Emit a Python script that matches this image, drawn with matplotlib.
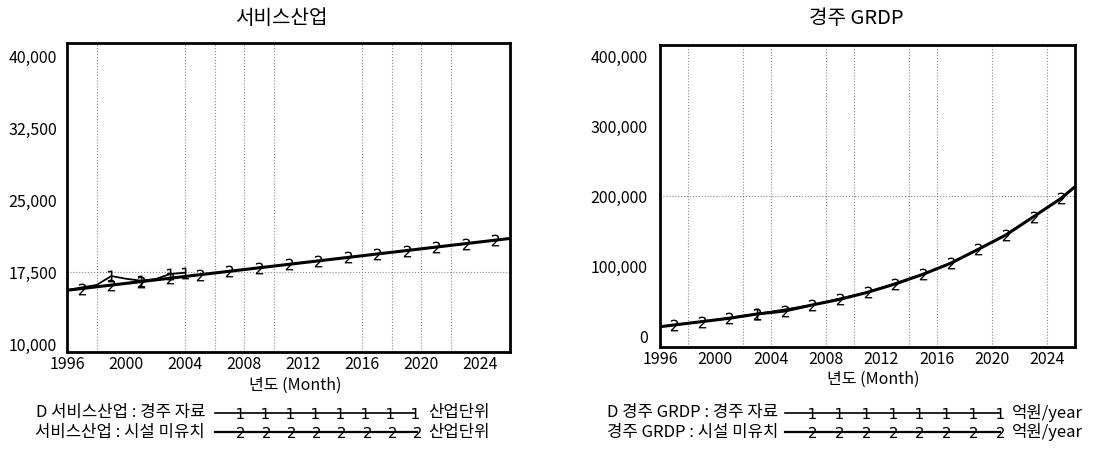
import matplotlib
matplotlib.use("Agg")
import matplotlib.pyplot as plt
from matplotlib.lines import Line2D
import numpy as np

plt.rcParams['font.family'] = ['Noto Sans CJK KR', 'DejaVu Sans']

# =============================================================================
    # Data
# =============================================================================
# 서비스산업 : 경주 자료 (data, series 1)
svc_data_years = [1996, 1997, 1998, 1999, 2000, 2001, 2002, 2003, 2004]
svc_data_vals = [15600, 15900, 16150, 17080, 16800, 16600, 16770, 17300, 17430]

# 서비스산업 : 시설 미유치 (simulation, series 2)
svc_sim_years = [1996, 1997, 1999, 2001, 2003, 2005, 2007, 2009, 2011,
                 2013, 2015, 2017, 2019, 2021, 2023, 2025, 2026]
svc_sim_vals = [15600, 15780, 16140, 16500, 16860, 17220, 17580, 17940, 18300,
                18660, 19020, 19380, 19740, 20100, 20460, 20820, 21000]

# 경주 GRDP : 경주 자료
gdp_data_years = [1996, 1999, 2003, 2007, 2011, 2015]
gdp_data_vals = [13300, 20500, 31400, 44300, 62400, 88100]

# 경주 GRDP : 시설 미유치
gdp_sim_years = [1996, 1997, 1999, 2001, 2003, 2005, 2007, 2009, 2011,
                 2013, 2015, 2017, 2019, 2021, 2023, 2025, 2026]
gdp_sim_vals = [13300, 15700, 20500, 25300, 31400, 35700, 44300, 52400, 62400,
                74300, 88100, 103800, 123800, 144300, 170400, 196700, 213300]

svc_yticks = [10000, 17500, 25000, 32500, 40000]
gdp_yticks = [0, 100000, 200000, 300000, 400000]
xticks = [1996, 2000, 2004, 2008, 2012, 2016, 2020, 2024]

svc_vgrid = [1998, 2004, 2006, 2008, 2010, 2016, 2018, 2020, 2022]
gdp_vgrid = [1998, 2002, 2004, 2008, 2010, 2014, 2016, 2020, 2024]

W, H = 1101, 454

fig = plt.figure(figsize=(W / 100, H / 100), dpi=100)

def box(x0, y0, x1, y1):
    return [x0 / W, 1 - y1 / H, (x1 - x0) / W, (y1 - y0) / H]

ax1 = fig.add_axes(box(67, 43, 510, 352))
ax2 = fig.add_axes(box(660, 45, 1075, 347))

def setup(ax, yticks, ylim, vgrid, hgrid, ypad, lab_x):
    ax.set_xlim(1996, 2026)
    ax.set_ylim(*ylim)
    ax.set_xticks(xticks)
    ax.set_xticklabels([str(t) for t in xticks], fontsize=11.5, fontweight='medium')
    ax.set_yticks(yticks)
    ax.set_yticklabels([f"{t:,}" for t in yticks], fontsize=11.5, fontweight='medium')
    ax.tick_params(length=0)
    ax.tick_params(axis='y', pad=ypad)
    ax.tick_params(axis='x', pad=3)
    for s in ax.spines.values():
        s.set_linewidth(2)
        s.set_color('black')
    for g in vgrid:
        ax.axvline(g, color='#888888', linestyle=':', linewidth=0.8, zorder=0)
    ax.axhline(hgrid, color='#888888', linestyle=':', linewidth=0.8, zorder=0)
    ax.set_xlabel('년도 (Month)', fontsize=11.5)
    ax.xaxis.set_label_coords(lab_x, -0.08)

setup(ax1, svc_yticks, (9170, 41360), svc_vgrid, 17500, 7, 0.515)
setup(ax2, gdp_yticks, (-15700, 415700), gdp_vgrid, 200000, 9, 0.515)

mk = dict(markeredgewidth=0, markerfacecolor='black')

# series lines
ax1.plot(svc_data_years, svc_data_vals, color='black', linewidth=1.3,
         marker='$1$', markersize=8.5, markevery=[3, 5, 7, 8], **mk)
ax1.plot(svc_sim_years, svc_sim_vals, color='black', linewidth=2.2,
         marker='$2$', markersize=8.5, markevery=slice(1, -1), **mk)

ax2.plot(gdp_data_years, gdp_data_vals, color='black', linewidth=1.3,
         marker='$1$', markersize=8.5, markevery=[2], **mk)
ax2.plot(gdp_sim_years, gdp_sim_vals, color='black', linewidth=2.2,
         marker='$2$', markersize=8.5, markevery=slice(1, -1), **mk)

# titles
fig.text(281 / W, 1 - 19 / H, '서비스산업', fontsize=14.5, ha='center', va='center')
fig.text(856 / W, 1 - 19 / H, '경주 GRDP', fontsize=14.5, ha='center', va='center')

# legends
def legend_row(x_text_end, x0, x1, x_unit, y, label, unit, marker, n, lw):
    yf = 1 - y / H
    fig.text(x_text_end / W, yf, label, fontsize=12, ha='right', va='center')
    xs = np.linspace(x0, x1, n + 1) / W
    fig.add_artist(Line2D(xs, [yf] * len(xs), transform=fig.transFigure,
                          color='black', linewidth=lw, marker=marker,
                          markersize=8, markevery=slice(1, None), **mk))
    fig.text(x_unit / W, yf, unit, fontsize=12, ha='left', va='center')

legend_row(205, 215, 415, 428, 413, 'D 서비스산업 : 경주 자료', '산업단위', '$1$', 8, 1.2)
legend_row(205, 215, 417, 428, 432, '서비스산업 : 시설 미유치', '산업단위', '$2$', 8, 1.6)
legend_row(778, 785, 1000, 1012, 413, 'D 경주 GRDP : 경주 자료', '억원/year', '$1$', 8, 1.2)
legend_row(778, 785, 1000, 1012, 432, '경주 GRDP : 시설 미유치', '억원/year', '$2$', 8, 1.6)

fig.savefig('out.png', dpi=100)
